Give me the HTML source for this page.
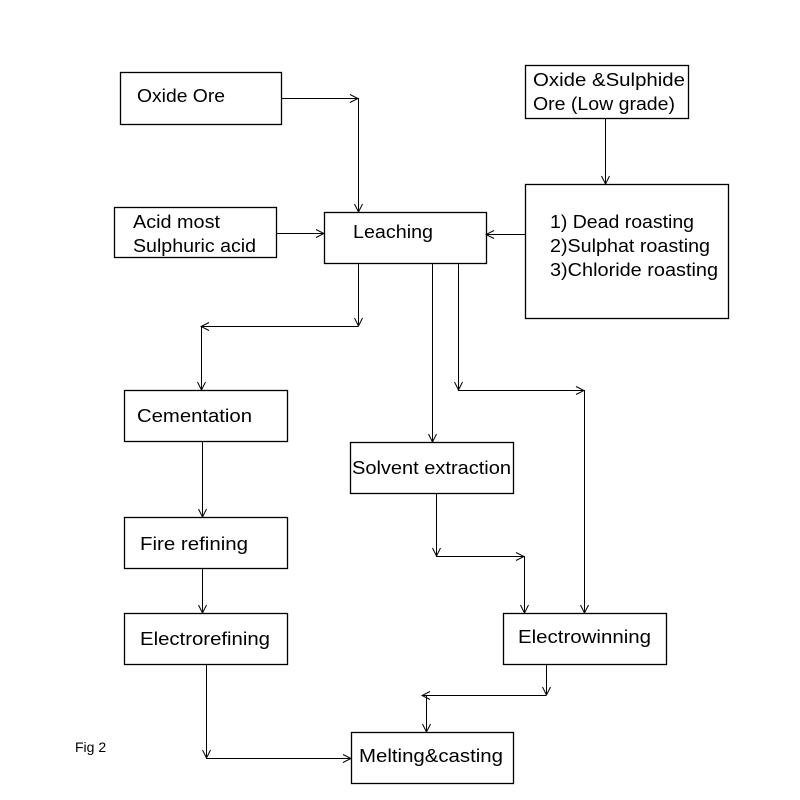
<!DOCTYPE html>
<html><head><style>html,body{margin:0;padding:0;background:#fff}svg{display:block}</style></head>
<body>
<svg width="800" height="800" viewBox="0 0 800 800" xmlns="http://www.w3.org/2000/svg">
<defs>
<marker id="a" markerWidth="10" markerHeight="10" refX="9" refY="5" orient="auto" markerUnits="userSpaceOnUse">
<path d="M1,1 L9,5 L1,9" fill="none" stroke="#000" stroke-width="1"/>
</marker>
</defs>
<rect width="800" height="800" fill="#fff"/>
<g fill="none" stroke="#000" stroke-width="1.3">
<rect x="120.5" y="72.5" width="161" height="52"/>
<rect x="525.5" y="65.5" width="163" height="53"/>
<rect x="114.5" y="207.5" width="162" height="50"/>
<rect x="324.5" y="212.5" width="162" height="51"/>
<rect x="525.5" y="184.5" width="203" height="134"/>
<rect x="124.5" y="390.5" width="163" height="51"/>
<rect x="350.5" y="442.5" width="163" height="51"/>
<rect x="124.5" y="517.5" width="163" height="51"/>
<rect x="124.5" y="613.5" width="163" height="51"/>
<rect x="503.5" y="613.5" width="163" height="51"/>
<rect x="351.5" y="732.5" width="162" height="51"/>
</g>
<g fill="none" stroke="#000" stroke-width="1" marker-end="url(#a)">
<path d="M281,98.5 H358"/>
<path d="M358.5,98 V212"/>
<path d="M276,233.5 H324"/>
<path d="M525,234.5 H486"/>
<path d="M605.5,118 V184"/>
<path d="M358.5,263 V326"/>
<path d="M358,326.5 H201"/>
<path d="M201.5,326 V390"/>
<path d="M432.5,263 V442"/>
<path d="M458.5,263 V390"/>
<path d="M458,390.5 H584"/>
<path d="M584.5,390 V613"/>
<path d="M202.5,441 V517"/>
<path d="M202.5,568 V613"/>
<path d="M436.5,493 V556"/>
<path d="M436,556.5 H524"/>
<path d="M524.5,556 V613"/>
<path d="M546.5,664 V695"/>
<path d="M546,695.5 H422"/>
<path d="M426.5,695 V732"/>
<path d="M206.5,664 V758"/>
<path d="M206,758.5 H351"/>
</g>
<g font-family="Liberation Sans, sans-serif" font-size="18" fill="#000" lengthAdjust="spacingAndGlyphs">
<text x="137" y="102" textLength="88" lengthAdjust="spacingAndGlyphs">Oxide Ore</text>
<text x="533" y="86" textLength="152" lengthAdjust="spacingAndGlyphs">Oxide &amp;Sulphide</text>
<text x="533" y="110" textLength="142" lengthAdjust="spacingAndGlyphs">Ore (Low grade)</text>
<text x="133" y="228" textLength="87" lengthAdjust="spacingAndGlyphs">Acid most</text>
<text x="133" y="252" textLength="123" lengthAdjust="spacingAndGlyphs">Sulphuric acid</text>
<text x="353" y="238" textLength="80" lengthAdjust="spacingAndGlyphs">Leaching</text>
<text x="550" y="228" textLength="144" lengthAdjust="spacingAndGlyphs">1) Dead roasting</text>
<text x="550" y="252" textLength="160" lengthAdjust="spacingAndGlyphs">2)Sulphat roasting</text>
<text x="550" y="276" textLength="168" lengthAdjust="spacingAndGlyphs">3)Chloride roasting</text>
<text x="137" y="422" textLength="115" lengthAdjust="spacingAndGlyphs">Cementation</text>
<text x="352" y="474" textLength="159" lengthAdjust="spacingAndGlyphs">Solvent extraction</text>
<text x="140" y="550" textLength="108" lengthAdjust="spacingAndGlyphs">Fire refining</text>
<text x="140" y="645" textLength="130" lengthAdjust="spacingAndGlyphs">Electrorefining</text>
<text x="518" y="643" textLength="133" lengthAdjust="spacingAndGlyphs">Electrowinning</text>
<text x="359" y="762" textLength="144" lengthAdjust="spacingAndGlyphs">Melting&amp;casting</text>
</g>
<text x="75" y="752" font-family="Liberation Sans, sans-serif" font-size="14" fill="#000">Fig 2</text>
</svg>
</body></html>
